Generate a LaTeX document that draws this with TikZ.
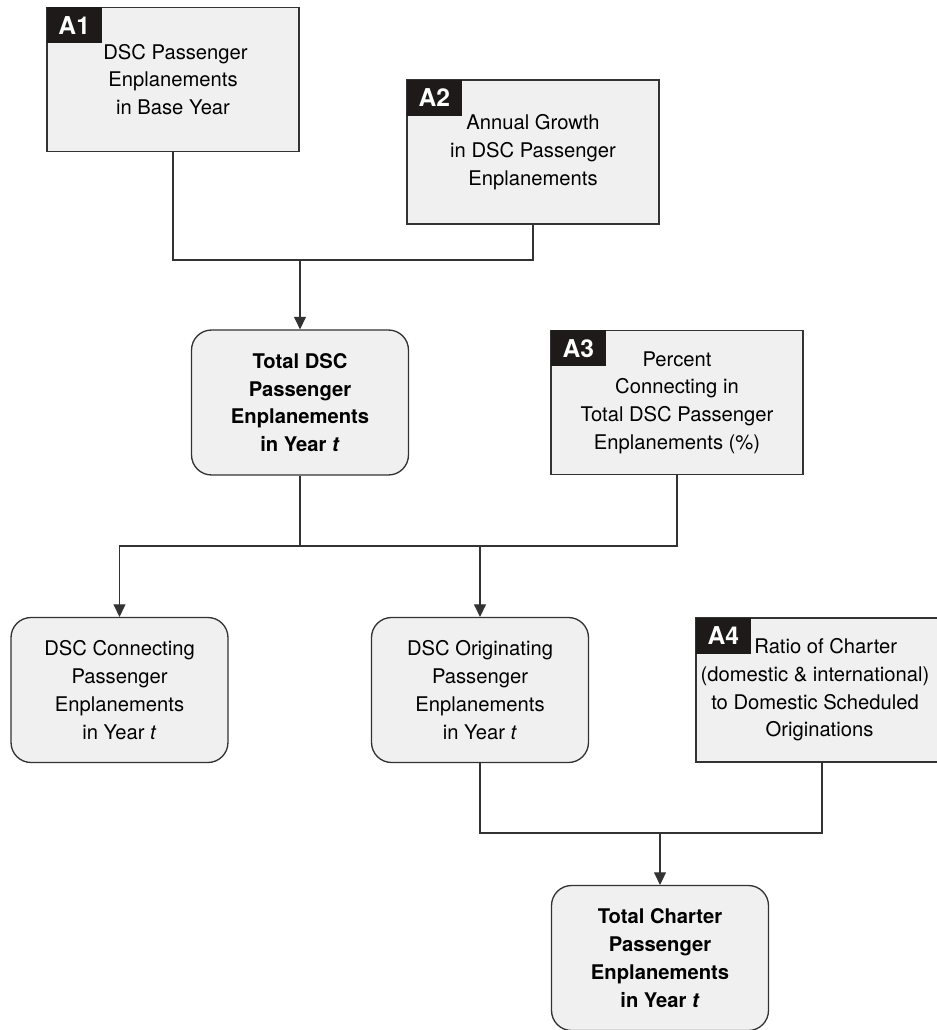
\documentclass[tikz,border=0pt]{standalone}
\usepackage{fontspec}
\setmainfont{TeX Gyre Heros}
\usetikzlibrary{arrows.meta,positioning}
\definecolor{fcfill}{HTML}{F0F0F0}
\definecolor{fcline}{HTML}{333333}
\definecolor{fctag}{HTML}{1E1A1A}

\begin{document}
\begin{tikzpicture}[x=0.02cm,y=-0.02cm,
 inputbox/.style={draw=fcline,line width=0.75pt,fill=fcfill,align=center,minimum width=5.04cm,minimum height=2.88cm,inner sep=2pt,font=\fontsize{11.5}{15.8}\selectfont},
 calcbox/.style={draw=fcline,line width=0.75pt,fill=fcfill,rounded corners=0.4cm,align=center,minimum width=4.34cm,minimum height=2.9cm,inner sep=2pt,font=\fontsize{11.5}{15.8}\selectfont},
 tagbox/.style={fill=fctag,text=white,anchor=north west,minimum width=1.1cm,minimum height=0.72cm,inner sep=0pt,font=\fontsize{14}{16}\selectfont\bfseries},
 wire/.style={draw=fcline,line width=0.6pt},
 flowarrow/.style={wire,-{Triangle[length=2.5mm,width=2.4mm]}}
]
\useasboundingbox (0,0) rectangle (936,1030);
% inputs and computed quantities
\node[inputbox] (a1) at (173,79.5) {\hspace*{0.1cm}DSC Passenger\\Enplanements\\in Base Year};
\node[inputbox] (a2) at (533,152) {Annual Growth\\in DSC Passenger\\Enplanements};
\node[calcbox] (totdsc) at (300,402.5) {\bfseries Total DSC\\\bfseries Passenger\\\bfseries Enplanements\\\bfseries in Year \textit{t}};
\node[inputbox] (a3) at (677,402.5) {Percent\\Connecting in\\Total DSC Passenger\\Enplanements (\%)};
\node[calcbox] (conn) at (119.5,690) {DSC Connecting\\Passenger\\Enplanements\\in Year \textit{t}};
\node[calcbox] (orig) at (480,690) {DSC Originating\\Passenger\\Enplanements\\in Year \textit{t}};
\node[inputbox] (a4) at (822,690) {\hspace*{0.15cm}Ratio of Charter\\\hspace*{-0.28cm}(domestic \& international)\\\hspace*{-0.28cm}to Domestic Scheduled\\\hspace*{-0.1cm}Originations};
\node[calcbox] (totchr) at (660,958) {\bfseries Total Charter\\\bfseries Passenger\\\bfseries Enplanements\\\bfseries in Year \textit{t}};
% tags
\node[tagbox] (t1) at (a1.north west) {A1};
\node[tagbox] (t2) at (a2.north west) {A2};
\node[tagbox] (t3) at (a3.north west) {A3};
\node[tagbox] (t4) at (a4.north west) {A4};
% junctions
\coordinate (m1) at (300,260);
\coordinate (m2) at (300,546);
\coordinate (m3) at (660,833);
\draw[wire] (a1.south) |- (m1) -| (a2.south);
\draw[flowarrow] (m1) -- (totdsc.north);
\draw[wire] (totdsc.south) -- (m2);
\draw[wire] (a3.south) |- (m2);
\draw[flowarrow] (m2) -| (conn.north);
\draw[flowarrow] (orig.north |- m2) -- (orig.north);
\draw[wire] (orig.south) |- (m3) -| (a4.south);
\draw[flowarrow] (m3) -- (totchr.north);
\end{tikzpicture}
\end{document}
